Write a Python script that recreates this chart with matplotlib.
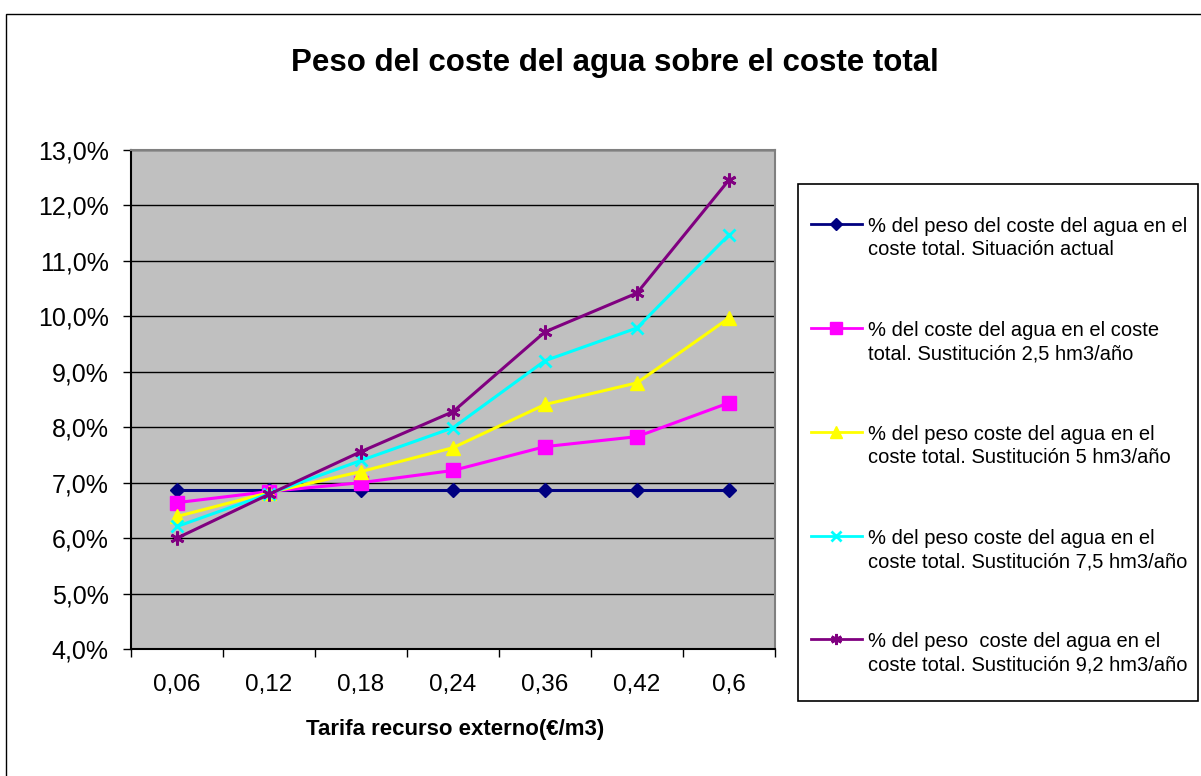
import matplotlib
matplotlib.use("Agg")
import matplotlib.pyplot as plt
from matplotlib.lines import Line2D
from matplotlib.patches import Rectangle

plt.rcParams['font.family'] = ['Liberation Sans', 'DejaVu Sans']

# datos
tarifas = ['0,06', '0,12', '0,18', '0,24', '0,36', '0,42', '0,6']
actual = [6.86, 6.86, 6.86, 6.86, 6.86, 6.86, 6.86]
sust_2_5 = [6.64, 6.84, 7.00, 7.22, 7.65, 7.83, 8.44]
sust_5 = [6.39, 6.82, 7.20, 7.63, 8.41, 8.80, 9.97]
sust_7_5 = [6.21, 6.80, 7.40, 7.99, 9.20, 9.79, 11.47]
sust_9_2 = [6.00, 6.79, 7.56, 8.28, 9.72, 10.42, 12.46]

etiquetas = [
    '% del peso del coste del agua en el\ncoste total. Situación actual',
    '% del coste del agua en el coste\ntotal. Sustitución 2,5 hm3/año',
    '% del peso coste del agua en el\ncoste total. Sustitución 5 hm3/año',
    '% del peso coste del agua en el\ncoste total. Sustitución 7,5 hm3/año',
    '% del peso  coste del agua en el\ncoste total. Sustitución 9,2 hm3/año',
]

series = [actual, sust_2_5, sust_5, sust_7_5, sust_9_2]
colores = ['#000080', '#FF00FF', '#FFFF00', '#00FFFF', '#800080']
marcadores = ['D', 's', '^', 'x', (6, 2, 0)]
tamanos = [7.5, 10, 10, 9, 10]

W, H = 1201, 776
fig = plt.figure(figsize=(W / 100, H / 100), dpi=100)

# marco exterior del grafico
fig.patches.append(Rectangle((6 / W, -0.1), 1.2, 1 - 14 / H + 0.1, transform=fig.transFigure,
                             fill=False, edgecolor='black', lw=1))

ax = fig.add_axes([131 / W, 1 - 649 / H, (775 - 131) / W, (649 - 150) / H])
ax.set_facecolor('#C0C0C0')

x = list(range(len(tarifas)))
for vals, c, m, s in zip(series, colores, marcadores, tamanos):
    ax.plot(x, vals, color=c, lw=2.2, marker=m, markersize=s,
            markeredgewidth=2 if m in ('x', (6, 2, 0)) else 1, markeredgecolor=c)

ax.set_xlim(-0.5, len(tarifas) - 0.5)
ax.set_ylim(4, 13)
ax.set_yticks(range(4, 14))
ax.set_yticklabels([f'{v},0%' for v in range(4, 14)], fontsize=18)
ax.set_xticks(x)
ax.set_xticklabels(tarifas, fontsize=17.5)
ax.set_xticks([i - 0.5 for i in range(len(tarifas) + 1)], minor=True)
ax.tick_params(axis='x', which='major', length=0, pad=18)
ax.tick_params(axis='x', which='minor', length=6, width=1, direction='out')
ax.tick_params(axis='y', length=6, width=1, direction='out', pad=10)
ax.grid(axis='y', color='black', lw=1)
ax.set_axisbelow(True)
for lado in ['top', 'right']:
    ax.spines[lado].set_color('#808080')
    ax.spines[lado].set_linewidth(1.5)
for lado in ['left', 'bottom']:
    ax.spines[lado].set_color('black')
    ax.spines[lado].set_linewidth(1.5)

fig.text(615 / W, 1 - 63 / H, 'Peso del coste del agua sobre el coste total',
         ha='center', va='center', fontsize=22.5, fontweight='bold')
fig.text(455 / W, 1 - 730 / H, 'Tarifa recurso externo(€/m3)',
         ha='center', va='center', fontsize=16, fontweight='bold')

# leyenda
fig.patches.append(Rectangle((798 / W, 1 - 701 / H), 400 / W, (701 - 184) / H,
                             transform=fig.transFigure, facecolor='white',
                             edgecolor='black', lw=1.2))
filas = [224, 328, 432, 536, 639]
for y, lab, c, m, s in zip(filas, etiquetas, colores, marcadores, tamanos):
    yf = 1 - y / H
    fig.lines.append(Line2D([811 / W, 862 / W], [yf, yf], transform=fig.transFigure,
                            color=c, lw=2))
    fig.lines.append(Line2D([836 / W], [yf], transform=fig.transFigure, color=c,
                            marker=m, markersize=s * 0.8, markeredgecolor=c,
                            markeredgewidth=2 if m in ('x', (6, 2, 0)) else 1))
    fig.text(868 / W, 1 - (y - 7) / H, lab, ha='left', va='top', fontsize=14.5,
             linespacing=1.28)

fig.savefig('out.png', dpi=100)
